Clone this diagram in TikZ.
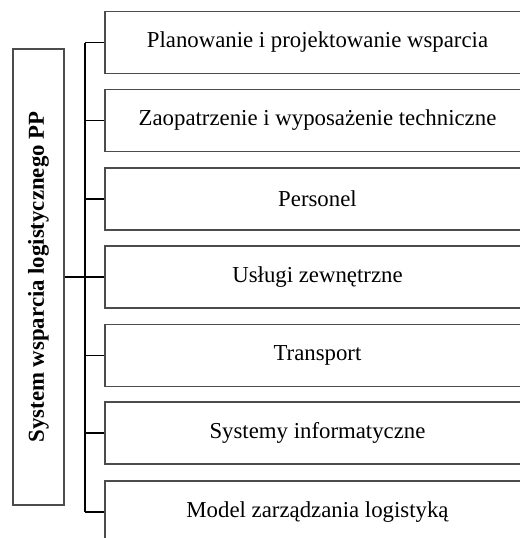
\documentclass[tikz,border=0pt]{standalone}
\usepackage{fontspec}
\setmainfont{Liberation Serif}
\usepackage{tikz}

\begin{document}
\begin{tikzpicture}
[x=0.5pt,y=-0.5pt,
box/.style={rectangle,draw=black!70,line width=0.55pt,minimum width=212.5pt,minimum height=31pt,inner sep=0pt,font=\fontsize{11.4}{13}\selectfont},
sysBox/.style={box,rotate=90,minimum width=228pt,minimum height=25.5pt,font=\fontsize{11.4}{13}\selectfont\bfseries},
conn/.style={line width=0.8pt,black}]
\clip (0,0) rectangle (520,538);
\node[sysBox,] (sys) at (38.5,277) {System wsparcia logistycznego PP};
\node[box,] (1) at (317.5,42.5) {Planowanie i projektowanie wsparcia};
\node[box,] (2) at (317.5,120.5) {Zaopatrzenie i wyposażenie techniczne};
\node[box,] (3) at (317.5,199) {Personel};
\node[box,] (4) at (317.5,277) {Usługi zewnętrzne};
\node[box,] (5) at (317.5,355.5) {Transport};
\node[box,] (6) at (317.5,433) {Systemy informatyczne};
\node[box,] (7) at (317.5,512) {Model zarządzania logistyką};
\coordinate (top) at (85,42.5);
\coordinate (bot) at (85,512);
\draw[conn,](top) -- (bot) ;
\draw[conn,](sys.south) -- (sys.south -| top) ;
\draw[conn,](1.west) -- (1.west -| top) ;
\draw[conn,](2.west) -- (2.west -| top) ;
\draw[conn,](3.west) -- (3.west -| top) ;
\draw[conn,](4.west) -- (4.west -| top) ;
\draw[conn,](5.west) -- (5.west -| top) ;
\draw[conn,](6.west) -- (6.west -| top) ;
\draw[conn,](7.west) -- (7.west -| top) ;
\end{tikzpicture}
\end{document}
